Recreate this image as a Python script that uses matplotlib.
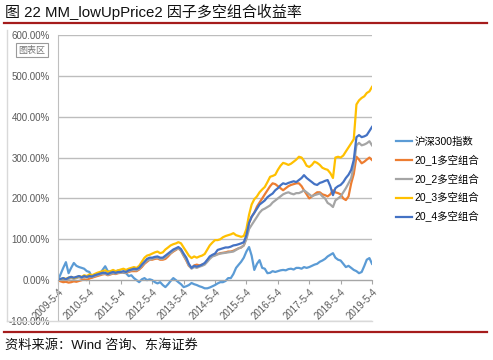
import matplotlib
matplotlib.use("Agg")
import matplotlib.pyplot as plt
from matplotlib.lines import Line2D
import pandas as pd

plt.rcParams['font.family'] = ['Liberation Sans', 'Noto Sans CJK SC', 'DejaVu Sans']

dates = pd.date_range('2009-05-04', periods=121, freq=pd.DateOffset(months=1))
tick_dates = pd.date_range('2009-05-04', periods=11, freq=pd.DateOffset(years=1))
tick_labels = ['2009-5-4', '2010-5-4', '2011-5-4', '2012-5-4', '2013-5-4', '2014-5-4',
               '2015-5-4', '2016-5-4', '2017-5-4', '2018-5-4', '2019-5-4']
series_names = ['沪深300指数', '20_1多空组合', '20_2多空组合', '20_3多空组合', '20_4多空组合']

hs300 = [0, 15, 30, 44, 17, 30, 42, 35, 32, 30,
         28, 22, 20, 7, 10, 12, 15, 25, 34, 22,
         20, 22, 20, 24, 20, 18, 17, 10, 12, 5,
         0, -5, 2, 5, 0, 2, 0, -5, -8, -5,
         -12, -17, -10, -2, 5, 0, -5, -10, -17, -15,
         -12, -7, -10, -12, -15, -17, -20, -20, -18, -15,
         -12, -8, -5, -5, -2, 5, 5, 15, 30, 38,
         45, 55, 70, 81, 60, 25, 40, 49, 30, 28,
         17, 18, 22, 20, 22, 24, 25, 24, 27, 28,
         26, 30, 30, 28, 32, 30, 32, 35, 38, 40,
         45, 48, 52, 58, 62, 66, 55, 50, 48, 40,
         32, 35, 30, 25, 22, 17, 20, 35, 50, 54, 40]

ls_1 = [0, -3, -5, -4, -6, -5, -3, -4, -2, 0,
        2, 0, 4, 6, 8, 10, 12, 14, 15, 12,
        14, 16, 15, 17, 18, 20, 18, 20, 22, 22,
        22, 26, 32, 40, 45, 50, 50, 52, 53, 50,
        50, 52, 58, 65, 70, 74, 78, 72, 60, 48,
        35, 30, 36, 38, 36, 38, 40, 48, 55, 60,
        62, 64, 66, 67, 68, 70, 70, 72, 75, 78,
        80, 85, 105, 140, 155, 165, 180, 190, 200, 210,
        220, 230, 237, 235, 230, 225, 220, 225, 230, 233,
        235, 237, 237, 230, 220, 210, 200, 205, 210, 215,
        215, 210, 208, 205, 210, 220, 215, 213, 210, 200,
        196, 205, 237, 260, 302, 295, 286, 290, 295, 300, 294]

ls_2 = [0, 2, 3, 0, 3, 5, 3, 5, 7, 5,
        8, 6, 9, 8, 10, 12, 14, 15, 16, 13,
        15, 17, 16, 18, 18, 20, 18, 22, 24, 25,
        24, 28, 35, 42, 48, 50, 52, 54, 55, 52,
        52, 56, 62, 66, 72, 75, 78, 72, 60, 50,
        36, 28, 32, 30, 33, 35, 38, 45, 52, 58,
        60, 63, 65, 66, 67, 68, 69, 70, 74, 78,
        80, 85, 100, 125, 135, 145, 155, 165, 172, 175,
        179, 183, 190, 195, 200, 205, 210, 213, 215, 212,
        210, 213, 213, 216, 220, 215, 210, 205, 208, 210,
        212, 205, 200, 189, 185, 179, 195, 200, 205, 215,
        225, 237, 250, 280, 330, 336, 330, 332, 335, 340, 330]

ls_3 = [0, 2, 5, 3, 6, 8, 5, 7, 10, 8,
        12, 10, 14, 12, 15, 18, 20, 22, 24, 20,
        22, 25, 22, 24, 26, 28, 25, 28, 30, 32,
        30, 35, 45, 55, 60, 62, 65, 68, 70, 66,
        68, 75, 80, 85, 88, 90, 93, 90, 80, 70,
        60, 54, 58, 55, 58, 60, 64, 75, 85, 92,
        98, 98, 100, 105, 108, 110, 112, 115, 110, 108,
        106, 108, 125, 160, 185, 198, 205, 215, 222, 228,
        240, 253, 255, 258, 270, 280, 287, 285, 282, 285,
        290, 295, 302, 300, 292, 280, 277, 282, 290, 287,
        282, 275, 272, 270, 262, 250, 300, 302, 300, 305,
        315, 325, 335, 345, 430, 440, 446, 450, 458, 462, 473]

ls_4 = [0, 3, 5, 2, 6, 8, 6, 8, 10, 7,
        10, 8, 10, 9, 12, 14, 16, 18, 18, 15,
        18, 20, 18, 20, 20, 22, 20, 24, 26, 28,
        27, 30, 38, 45, 52, 55, 55, 57, 58, 55,
        55, 60, 65, 70, 75, 78, 81, 76, 65, 55,
        40, 30, 35, 33, 35, 38, 42, 50, 58, 62,
        65, 74, 76, 78, 80, 80, 82, 85, 86, 88,
        90, 93, 110, 140, 155, 165, 175, 185, 190, 195,
        203, 208, 212, 220, 225, 232, 237, 235, 238, 240,
        242, 240, 245, 250, 257, 250, 245, 240, 235, 233,
        238, 240, 243, 245, 230, 208, 225, 230, 233, 240,
        250, 258, 270, 294, 350, 355, 350, 352, 355, 365, 375]

colors = ['#5B9BD5', '#ED7D31', '#A5A5A5', '#FFC000', '#4472C4']
all_series = [hs300, ls_1, ls_2, ls_3, ls_4]

W, H = 493, 360
fig = plt.figure(figsize=(W / 100, H / 100), dpi=100)

def fx(px):
    return px / W

def fy(py):
    return 1 - py / H

ax = fig.add_axes([fx(58), fy(321), fx(372) - fx(58), fy(35) - fy(321)])
for s, c, n in zip(all_series, colors, series_names):
    ax.plot(dates, s, color=c, lw=1.6, label=n, solid_joinstyle='round')

ax.set_xlim(tick_dates[0], tick_dates[-1])
ax.set_ylim(-100, 600)
ax.set_yticks(range(-100, 601, 100))
ax.yaxis.set_major_formatter(matplotlib.ticker.FuncFormatter(lambda v, p: f'{v:.2f}%'))
ax.grid(axis='y', color='#BDBDBD', lw=1)
ax.set_axisbelow(True)

for sp in ['top', 'right']:
    ax.spines[sp].set_visible(False)
ax.spines['left'].set_color('#BFBFBF')
ax.spines['bottom'].set_position(('data', 0))
ax.spines['bottom'].set_color('#A6A6A6')

ax.set_xticks(tick_dates)
ax.set_xticklabels(tick_labels, rotation=45, ha='right', va='top', rotation_mode='anchor')
ax.tick_params(axis='x', length=3, color='#A6A6A6', labelsize=7, labelcolor='#595959', pad=2)
ax.tick_params(axis='y', length=0, labelsize=7, labelcolor='#595959', pad=6)

# chart area borders
fig.add_artist(Line2D([fx(7), fx(7)], [fy(30), fy(321)], color='#D9D9D9', lw=1))
fig.add_artist(Line2D([fx(7), fx(372)], [fy(321), fy(321)], color='#D9D9D9', lw=1))

# legend
fig.legend(*ax.get_legend_handles_labels(), loc='upper left',
           bbox_to_anchor=(fx(396), fy(137)), frameon=False, fontsize=7.5,
           handlelength=1.5, handletextpad=0.3, labelspacing=0.75, borderpad=0,
           borderaxespad=0)

# title and rules
fig.text(fx(5), fy(12), '图 22 MM_lowUpPrice2 因子多空组合收益率', fontsize=10.8,
         va='center', ha='left', color='#111111')
fig.add_artist(Line2D([fx(4), fx(487)], [fy(23), fy(23)], color='#A51C1C', lw=1.6))
fig.add_artist(Line2D([fx(4), fx(487)], [fy(332), fy(332)], color='#A51C1C', lw=1.6))
fig.text(fx(5), fy(346), '资料来源：Wind 咨询、东海证券', fontsize=9.5,
         va='center', ha='left', color='#111111')

# "图表区" tag
fig.text(fx(32), fy(50), '图表区', fontsize=6.5, ha='center', va='center', color='#777777',
         bbox=dict(boxstyle='square,pad=0.3', fc='white', ec='#9A9A9A', lw=0.8))

fig.savefig('out.png', dpi=100)
